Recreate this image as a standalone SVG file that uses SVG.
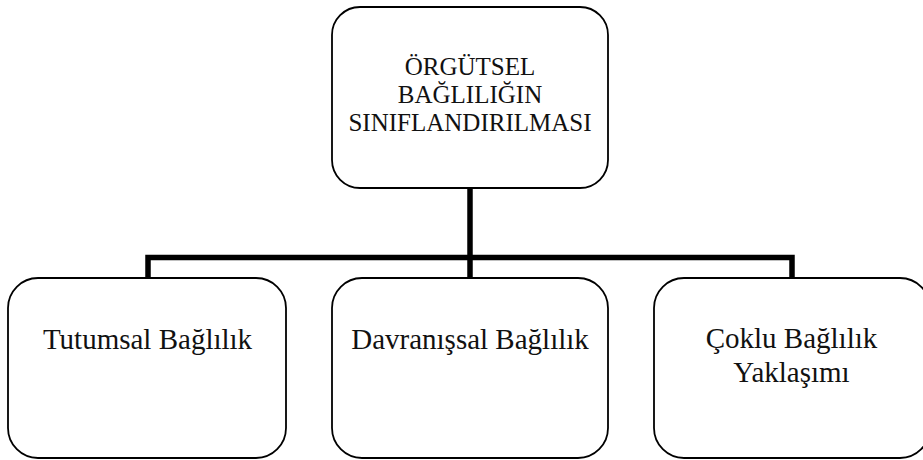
<svg xmlns="http://www.w3.org/2000/svg" width="923" height="460" viewBox="0 0 923 460">
<style>
.box{fill:#fff;stroke:#000;stroke-width:1.8}
.t{font-family:"Liberation Serif","Times New Roman",serif;fill:#111;text-anchor:middle}
.top{font-size:25px}
.bot{font-size:29px}
.conn{fill:none;stroke:#000;stroke-width:5.5;stroke-linejoin:miter;stroke-linecap:butt}
</style>
<rect width="923" height="460" fill="#fff"/>
<g id="connectors">
<path class="conn" d="M470,188 V278"/>
<path class="conn" d="M148,278 V257.5 H792 V278"/>
</g>
<g id="root">
<rect class="box" x="332" y="7" width="276" height="181" rx="28" ry="28"/>
<text class="t top" x="470" y="75">ÖRGÜTSEL</text>
<text class="t top" x="470" y="103">BAĞLILIĞIN</text>
<text class="t top" x="470" y="131">SINIFLANDIRILMASI</text>
</g>
<g id="tutumsal">
<rect class="box" x="8" y="278" width="278" height="180" rx="30" ry="30"/>
<text class="t bot" x="147.5" y="349">Tutumsal Bağlılık</text>
</g>
<g id="davranissal">
<rect class="box" x="332" y="278" width="276" height="180" rx="30" ry="30"/>
<text class="t bot" x="470" y="349">Davranışsal Bağlılık</text>
</g>
<g id="coklu">
<rect class="box" x="654" y="278" width="276" height="180" rx="30" ry="30"/>
<text class="t bot" x="791.5" y="348">Çoklu Bağlılık</text>
<text class="t bot" x="791.5" y="382">Yaklaşımı</text>
</g>
</svg>
